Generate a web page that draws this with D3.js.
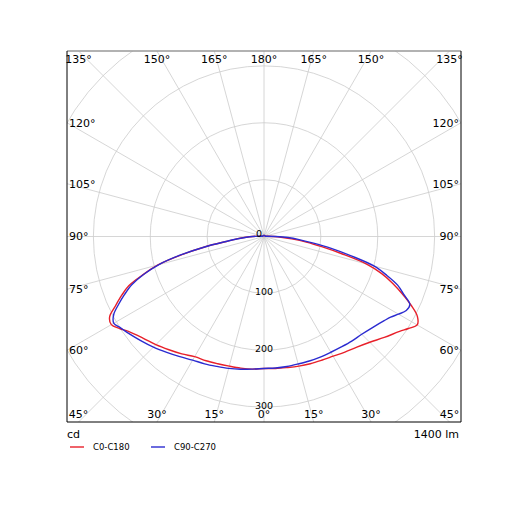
<!DOCTYPE html>
<html>
<head>
<meta charset="utf-8">
<script src="https://cdn.jsdelivr.net/npm/d3@7"></script>
<style>
  body { margin: 0; background: #fff; }
  text { font-family: "DejaVu Sans", sans-serif; }
</style>
</head>
<body>
<div id="chart"></div>
<script>
// gamma angles (deg, 0 = straight down)
const gamma = [0, 5, 10, 15, 20, 25, 30, 35, 40, 45, 50, 55, 57.5, 60, 62.5, 65, 67.5, 70, 72.5, 75, 77.5, 80, 82.5, 85, 87.5, 90, 95, 100, 110, 120, 130, 140, 150, 160, 170, 180]
// intensities in cd per C-plane
const c0 = [232, 233, 234, 236, 238, 240, 243, 248, 254, 263, 276, 291, 301, 311, 304, 285, 263, 241, 217, 186, 140, 103, 75, 49, 30, 15, 6, 3, 2, 2, 2, 2, 2, 2, 2, 2]
const c180 = [233, 234, 235, 236, 238, 241, 244, 252, 260, 269, 278, 291, 301, 310, 306, 288, 271, 253, 223, 193, 149, 106, 67, 48, 32, 20, 6, 3, 2, 2, 2, 2, 2, 2, 2, 2]
const c90 = [232, 232, 232, 232, 233, 234, 235, 237, 240, 243, 249, 258, 264, 273, 282, 283, 266, 250, 226, 200, 157, 120, 86, 62, 42, 20, 6, 3, 2, 2, 2, 2, 2, 2, 2, 2]
const c270 = [233, 234, 237, 240, 243, 247, 251, 258, 266, 275, 284, 294, 299, 305, 298, 282, 265, 247, 222, 192, 150, 106, 67, 46, 31, 20, 6, 3, 2, 2, 2, 2, 2, 2, 2, 2]

const ringValues = [100, 200, 300, 400]
const ringLabels = [0, 100, 200, 300]
const angleTicks = [0, 15, 30, 45, 60, 75, 90, 105, 120, 135, 150, 165, 180]
const seriesNames = ['C0-C180', 'C90-C270']
const colors = ['#e8202a', '#2b2bd0']
const unitLabel = 'cd'
const fluxLabel = '1400 lm'

const W = 515, H = 515
const box = { x0: 67, x1: 461, y0: 51, y1: 422 }
const cx = (box.x0 + box.x1) / 2
const cy = (box.y0 + box.y1) / 2
const hw = (box.x1 - box.x0) / 2
const hh = (box.y1 - box.y0) / 2

const r = d3.scaleLinear().domain([0, 400]).range([0, 227.5])
const rad = d => d * Math.PI / 180

const svg = d3.select('#chart').append('svg')
  .attr('width', W)
  .attr('height', H)

svg.append('rect').attr('width', W).attr('height', H).attr('fill', '#fff')

svg.append('clipPath').attr('id', 'clip')
  .append('rect')
  .attr('x', box.x0).attr('y', box.y0)
  .attr('width', box.x1 - box.x0).attr('height', box.y1 - box.y0)

const plot = svg.append('g').attr('clip-path', 'url(#clip)')
const g = plot.append('g').attr('transform', `translate(${cx},${cy})`)

// rings
g.selectAll('.ring')
  .data(ringValues)
  .enter()
  .append('circle')
  .attr('r', d => r(d))
  .attr('fill', 'none')
  .attr('stroke', '#cccccc')
  .attr('stroke-width', 0.8)

// spokes every 15 deg, both sides
const spokes = d3.range(0, 360, 15)
g.selectAll('.spoke')
  .data(spokes)
  .enter()
  .append('line')
  .attr('x1', 0).attr('y1', 0)
  .attr('x2', d => 400 * Math.sin(rad(d)))
  .attr('y2', d => 400 * Math.cos(rad(d)))
  .attr('stroke', '#cccccc')
  .attr('stroke-width', 0.8)

// curves: right half plane goes down->up, left half comes back
const curvePoints = (right, left) => {
  const pts = gamma.map((gm, i) => [Math.PI - rad(gm), r(right[i])])
  for (let i = gamma.length - 2; i > 0; i--) {
    pts.push([Math.PI + rad(gamma[i]), r(left[i])])
  }
  return pts
}
const line = d3.lineRadial().curve(d3.curveCatmullRomClosed.alpha(0.5))

const series = [curvePoints(c0, c180), curvePoints(c90, c270)]
g.selectAll('.curve')
  .data(series)
  .enter()
  .append('path')
  .attr('d', d => line(d))
  .attr('fill', 'none')
  .attr('stroke', (d, i) => colors[i])
  .attr('stroke-width', 1.4)

// ring labels along the downward axis
g.selectAll('.rlabel')
  .data(ringLabels)
  .enter()
  .append('text')
  .attr('x', d => d === 0 ? -5 : 0)
  .attr('y', d => d === 0 ? 0 : r(d) + 2)
  .attr('text-anchor', 'middle')
  .attr('font-size', '9.5px')
  .attr('fill', '#000')
  .text(d => d)

// frame
svg.append('line').attr('x1', box.x0).attr('x2', box.x1).attr('y1', box.y0).attr('y2', box.y0)
  .attr('stroke', '#999').attr('stroke-width', 1.5)
svg.append('path')
  .attr('d', `M${box.x0},${box.y0}V${box.y1}H${box.x1}V${box.y0}`)
  .attr('fill', 'none').attr('stroke', '#000').attr('stroke-width', 1)

// angle labels where the spokes meet the frame
const angleLabel = (deg, side) => {
  const s = Math.sin(rad(deg)), c = Math.cos(rad(deg))
  const tx = Math.abs(s) > 1e-9 ? hw / Math.abs(s) : Infinity
  const ty = Math.abs(c) > 1e-9 ? hh / Math.abs(c) : Infinity
  const t = Math.min(tx, ty)
  let x = cx + side * s * t
  let y = cy + c * t
  let anchor = 'middle'
  if (tx < ty) {
    anchor = side < 0 ? 'start' : 'end'
    x = side < 0 ? box.x0 + 2 : box.x1 - 2
  }
  y = Math.max(box.y0 + 8, Math.min(box.y1 - 8, y))
  return { x, y, anchor, t: deg + '°' }
}
const labels = []
angleTicks.forEach(a => {
  labels.push(angleLabel(a, -1))
  if (a !== 0 && a !== 180) labels.push(angleLabel(a, 1))
})
svg.selectAll('.alabel')
  .data(labels)
  .enter()
  .append('text')
  .attr('x', d => d.x)
  .attr('y', d => d.y)
  .attr('dy', '0.36em')
  .attr('text-anchor', d => d.anchor)
  .attr('font-size', '11px')
  .attr('fill', '#000')
  .text(d => d.t)

// footer
svg.append('text').attr('x', box.x0).attr('y', 438)
  .attr('font-size', '11px').text(unitLabel)
svg.append('text').attr('x', box.x1 - 2).attr('y', 438)
  .attr('text-anchor', 'end').attr('font-size', '11px').text(fluxLabel)

const legend = svg.append('g').attr('transform', 'translate(70,447)')
const item = legend.selectAll('.item')
  .data(seriesNames)
  .enter()
  .append('g')
  .attr('transform', (d, i) => `translate(${i * 81},0)`)
item.append('line')
  .attr('x1', 0).attr('x2', 14).attr('y1', 0).attr('y2', 0)
  .attr('stroke', (d, i) => colors[i]).attr('stroke-width', 1.4)
item.append('text')
  .attr('x', 23).attr('y', 3)
  .attr('font-size', '8.5px')
  .text(d => d)
</script>
</body>
</html>
